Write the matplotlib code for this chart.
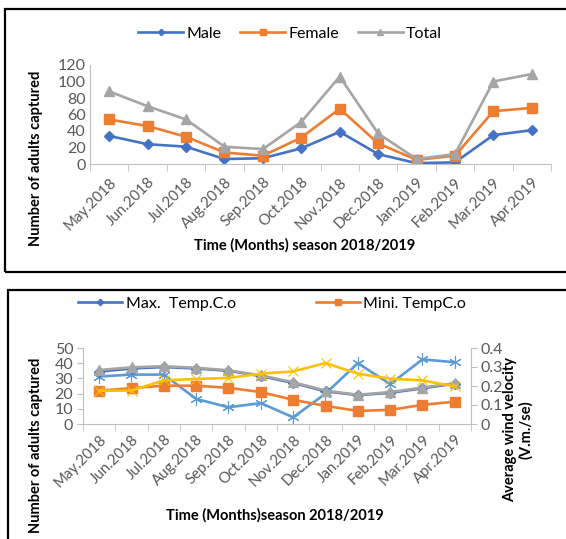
import matplotlib
matplotlib.use("Agg")
import matplotlib.pyplot as plt
from matplotlib.patches import Rectangle
from matplotlib.ticker import FixedLocator, FuncFormatter

plt.rcParams['font.family'] = ['Lato', 'DejaVu Sans']

months = ['May.2018', 'Jun.2018', 'Jul.2018', 'Aug.2018', 'Sep.2018', 'Oct.2018',
          'Nov.2018', 'Dec.2018', 'Jan.2019', 'Feb.2019', 'Mar.2019', 'Apr.2019']

# top chart: adults captured
male = [34, 24, 21, 6, 7, 19, 39, 12, 1, 2, 35, 41]
female = [54, 46, 33, 14, 10, 32, 67, 25, 5, 10, 64, 68]
total = [88, 70, 54, 21, 18, 51, 106, 37, 6, 12, 100, 109]

# bottom chart: weather
max_temp = [34.5, 36.5, 37.5, 36.5, 35, 31.5, 27, 21.5, 19, 20.5, 23.5, 26.5]
min_temp = [21.9, 23.6, 25.2, 25.2, 23.8, 21.0, 15.9, 11.9, 8.6, 9.3, 12.6, 14.7]
gray_series = [35.5, 37.3, 38, 37, 35.3, 32, 27.5, 22, 19.2, 21, 24, 26.8]
yellow_series = [21.9, 22, 28.7, 29.6, 30.3, 33.1, 34.6, 40.1, 33.1, 29.8, 28.7, 24.7]
wind = [0.25, 0.26, 0.26, 0.132, 0.088, 0.11, 0.035, 0.16, 0.32, 0.21, 0.34, 0.325]

W, H = 566, 539
BLUE = '#4472C4'
ORANGE = '#ED7D31'
GRAY = '#A5A5A5'
YELLOW = '#FFC000'
LBLUE = '#5B9BD5'
TICKC = '#595959'
AXC = '#BFBFBF'


def box(l, t, r, b):
    return [l / W, 1 - b / H, (r - l) / W, (b - t) / H]


def fx(x):
    return x / W


def fy(y):
    return 1 - y / H


fig = plt.figure(figsize=(W / 100, H / 100), dpi=100)

# panel frames
fig.patches.append(Rectangle((fx(5), fy(272)), fx(600) - fx(5), fy(9) - fy(272),
                             transform=fig.transFigure, fill=False, lw=1.6, ec='black'))
fig.patches.append(Rectangle((fx(8), fy(600)), fx(600) - fx(8), fy(290) - fy(600),
                             transform=fig.transFigure, fill=False, lw=1.6, ec='black'))

x = list(range(len(months)))


def style_axes(ax, yticks_left):
    ax.set_xlim(-0.5, len(months) - 0.5)
    for s in ['top', 'right']:
        ax.spines[s].set_visible(False)
    ax.spines['bottom'].set_color(AXC)
    ax.spines['left'].set_color(AXC)
    ax.xaxis.set_major_locator(FixedLocator(x))
    ax.xaxis.set_minor_locator(FixedLocator([i - 0.5 for i in range(len(months) + 1)]))
    ax.set_xticklabels(months, rotation=45, ha='right', va='top', rotation_mode='anchor',
                       fontsize=10.8, color=TICKC)
    ax.tick_params(axis='x', which='major', length=0, pad=8)
    ax.tick_params(axis='x', which='minor', length=5, color=AXC, direction='out')
    ax.tick_params(axis='y', labelsize=11.5, colors=TICKC, length=yticks_left, color=AXC, pad=3)


# ---- top chart
ax1 = fig.add_axes(box(90, 65, 551, 164))
ax1.plot(x, male, color=BLUE, lw=1.9, marker='D', ms=5, label='Male')
ax1.plot(x, female, color=ORANGE, lw=1.9, marker='s', ms=7, label='Female')
ax1.plot(x, total, color=GRAY, lw=1.9, marker='^', ms=7, label='Total')
ax1.set_ylim(0, 120)
ax1.set_yticks(range(0, 121, 20))
style_axes(ax1, 0)
fig.legend(handles=ax1.get_lines(), loc='center', bbox_to_anchor=(fx(290), fy(34)), ncol=3,
           frameon=False, fontsize=11.5, handlelength=2.8, columnspacing=1.2, handletextpad=0.2,
           markerscale=0.65)
fig.text(fx(36), fy(158), 'Number of adults captured', rotation=90, ha='center', va='center',
         fontsize=10.5, fontweight='bold')
fig.text(fx(305), fy(245), 'Time (Months) season 2018/2019', ha='center', va='center',
         fontsize=10.5, fontweight='bold')

# ---- bottom chart
ax2 = fig.add_axes(box(83, 348, 471, 424))
l_max, = ax2.plot(x, max_temp, color=BLUE, lw=1.9, marker='D', ms=5, label='Max.  Temp.C.o')
l_min, = ax2.plot(x, min_temp, color=ORANGE, lw=1.9, marker='s', ms=7, label='Mini. TempC.o')
ax2.plot(x, gray_series, color=GRAY, lw=1.9, marker='^', ms=7)
ax2.plot(x, yellow_series, color=YELLOW, lw=1.9, marker='x', ms=7, mew=0.8)
ax2.set_ylim(0, 50)
ax2.set_yticks(range(0, 51, 10))
style_axes(ax2, 4)
ax2.tick_params(axis='x', pad=6)

ax3 = ax2.twinx()
ax3.set_position(box(83, 348, 471, 424))
ax3.plot(x, wind, color=LBLUE, lw=1.9, marker=(6, 2, 0), ms=9, mew=0.8)
ax3.set_ylim(0, 0.4)
ax3.set_yticks([0, 0.1, 0.2, 0.3, 0.4])
ax3.yaxis.set_major_formatter(FuncFormatter(lambda v, p: '0' if v == 0 else f'{v:.1f}'))
for s in ['top', 'left', 'bottom']:
    ax3.spines[s].set_visible(False)
ax3.spines['right'].set_color(AXC)
ax3.tick_params(axis='y', labelsize=11.5, colors=TICKC, length=4, color=AXC, pad=3)
ax2.set_zorder(ax3.get_zorder() + 1)
ax2.patch.set_visible(False)
ax3.set_zorder(0)

fig.legend(handles=[l_max, l_min], loc='center', bbox_to_anchor=(fx(272), fy(304)), ncol=2,
           frameon=False, fontsize=11.5, handlelength=2.8, columnspacing=5.0, handletextpad=0.2,
           markerscale=0.65)
fig.text(fx(36), fy(445), 'Number of adults captured', rotation=90, ha='center', va='center',
         fontsize=10.5, fontweight='bold')
fig.text(fx(518), fy(430), 'Average wind velocity\n(V.m./se)', rotation=90, ha='center',
         va='center', fontsize=10.5, fontweight='bold', linespacing=1.1)
fig.text(fx(275), fy(515), 'Time (Months)season 2018/2019', ha='center', va='center',
         fontsize=10.5, fontweight='bold')

fig.savefig('out.png', dpi=100)
